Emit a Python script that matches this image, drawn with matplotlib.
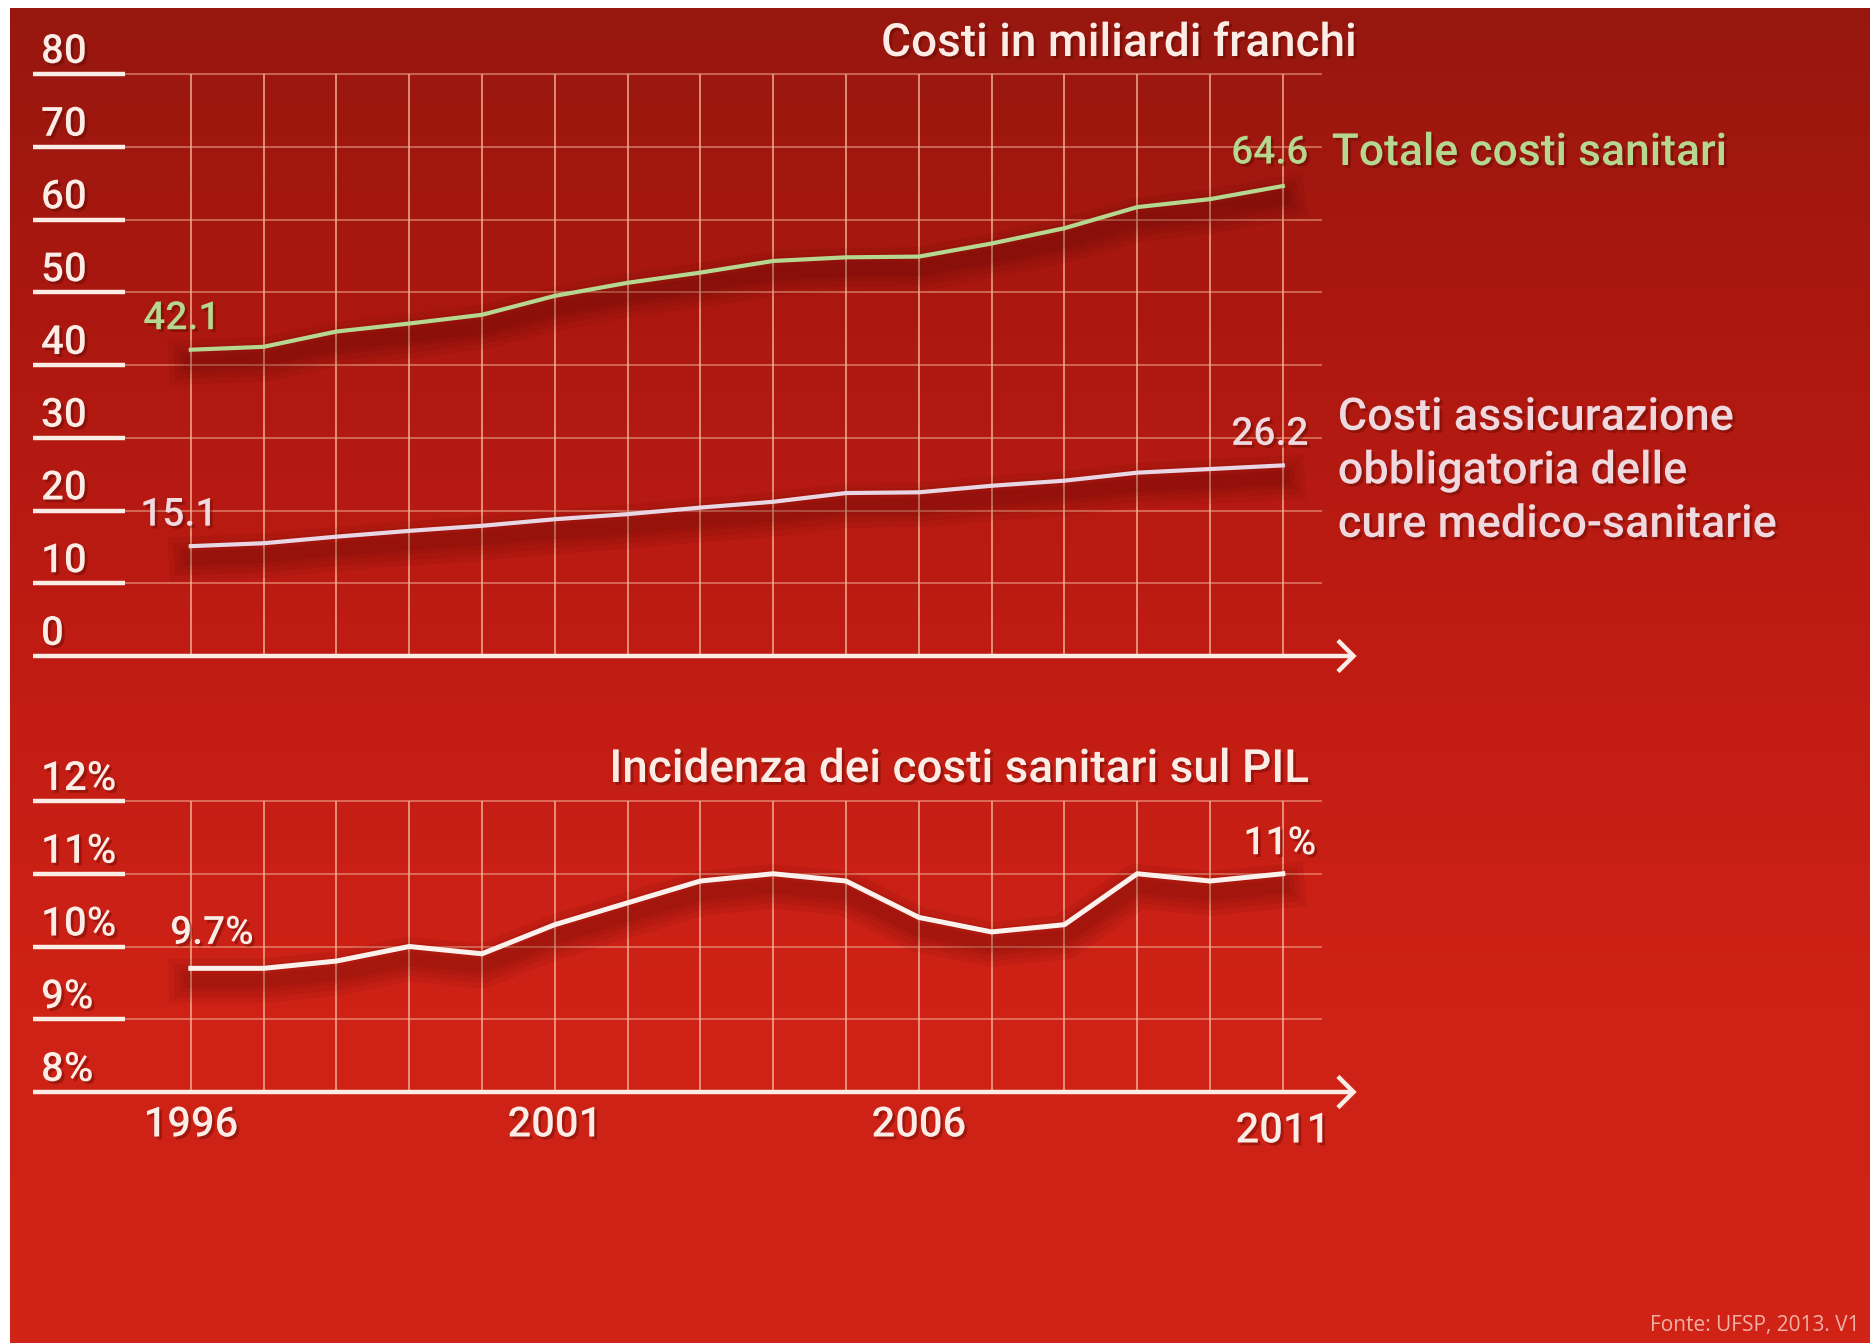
import numpy as np
import matplotlib
matplotlib.use("Agg")
import matplotlib.pyplot as plt
import matplotlib.patheffects as pe
from matplotlib import font_manager
from matplotlib.colors import LinearSegmentedColormap

# ---- data -------------------------------------------------------------
years = list(range(1996, 2012))
total_costs = [42.1, 42.5, 44.6, 45.7, 46.9, 49.5, 51.3, 52.7,
               54.3, 54.8, 54.9, 56.7, 58.8, 61.7, 62.8, 64.6]
insurance_costs = [15.1, 15.5, 16.4, 17.2, 17.9, 18.8, 19.5, 20.4,
                   21.2, 22.4, 22.5, 23.4, 24.1, 25.2, 25.7, 26.2]
gdp_share = [9.7, 9.7, 9.8, 10.0, 9.9, 10.3, 10.6, 10.9,
             11.0, 10.9, 10.4, 10.2, 10.3, 11.0, 10.9, 11.0]

cost_ticks = [0, 10, 20, 30, 40, 50, 60, 70, 80]
pct_ticks = [8, 9, 10, 11, 12]
year_labels = [1996, 2001, 2006, 2011]

title_costs = "Costi in miliardi franchi"
title_gdp = "Incidenza dei costi sanitari sul PIL"
label_total = "Totale costi sanitari"
label_insurance = "Costi assicurazione\nobbligatoria delle\ncure medico-sanitarie"
source_note = "Fonte: UFSP, 2013. V1"

# ---- fonts ------------------------------------------------------------
available = {f.name for f in font_manager.fontManager.ttflist}
FONT = "DejaVu Sans"
for cand in ["Roboto", "Roboto Condensed", "Lato", "DejaVu Sans"]:
    if cand in available:
        FONT = cand
        break
plt.rcParams["font.family"] = [FONT, "DejaVu Sans"]
plt.rcParams["font.weight"] = "medium"

# ---- colours ----------------------------------------------------------
GREEN = "#b5d78f"
LILAC = "#e9d6e4"
LILAC_TXT = "#f0d8df"
WHITE = "#fbf1ec"
GRID = "#f4b497"
TXT = "#fbece6"

# ---- layout (pixels) --------------------------------------------------
W, H = 1870, 1343
X0_PX, X1_PX = 33, 1355          # axis line start / arrow tip
YEAR0_PX, PX_PER_YEAR = 190.8, 72.8
GRID_X0_PX, GRID_X1_PX = 126, 1321
TOP_Y0_PX, TOP_Y1_PX = 656, 74    # 0 and 80
BOT_Y0_PX, BOT_Y1_PX = 1092, 801  # 8% and 12%


def px_to_year(px):
    return 1996 + (px - YEAR0_PX) / PX_PER_YEAR


xlim = (px_to_year(X0_PX), px_to_year(X1_PX))

fig = plt.figure(figsize=(W / 100, H / 100), dpi=100, facecolor="white")

# red gradient background with a thin white margin on top and left
bg = fig.add_axes([10 / W, 0, 1 - 10 / W, 1 - 8 / H])
bg.set_axis_off()
grad_cmap = LinearSegmentedColormap.from_list(
    "bg", ["#97170f", "#ad1810", "#c11c13", "#cf2216", "#d12417"])
grad = np.linspace(0, 1, 256).reshape(-1, 1)
bg.imshow(grad, cmap=grad_cmap, aspect="auto", extent=(0, 1, 1, 0))
bg.set_xlim(0, 1)
bg.set_ylim(1, 0)
bg.set_zorder(-10)


def make_axes(y_lo_px, y_hi_px, ylim):
    ax = fig.add_axes([X0_PX / W, 1 - y_lo_px / H,
                       (X1_PX - X0_PX) / W, (y_lo_px - y_hi_px) / H])
    ax.set_xlim(*xlim)
    ax.set_ylim(*ylim)
    ax.set_axis_off()
    ax.patch.set_alpha(0)
    return ax


ax1 = make_axes(TOP_Y0_PX, TOP_Y1_PX, (0, 80))
ax2 = make_axes(BOT_Y0_PX, BOT_Y1_PX, (8, 12))

line_shadow = [pe.SimpleLineShadow(offset=(0, -9), shadow_color="#3a0000",
                                   alpha=0.07, linewidth=w)
               for w in (32, 24, 16, 10)] + [pe.Normal()]
text_shadow = [pe.SimplePatchShadow(offset=(2, -2), shadow_rgbFace="#4a0500",
                                    alpha=0.35), pe.Normal()]

grid_x0, grid_x1 = px_to_year(GRID_X0_PX), px_to_year(GRID_X1_PX)
under_x1 = px_to_year(125)


def draw_frame(ax, ticks, fmt, px_per_unit):
    lo, hi = ticks[0], ticks[-1]
    # vertical year grid
    for yr in years:
        ax.plot([yr, yr], [lo, hi], color=GRID, lw=1.4, alpha=0.75,
                zorder=1, clip_on=False, solid_capstyle="butt")
    # horizontal grid and tick underlines
    for t in ticks[1:]:
        ax.plot([under_x1, grid_x1], [t, t], color=GRID, lw=1.4, alpha=0.5,
                zorder=1, clip_on=False)
        ax.plot([xlim[0], under_x1], [t, t], color=TXT, lw=3.2,
                zorder=2, clip_on=False, solid_capstyle="butt")
    for t in ticks:
        ax.text(px_to_year(41), t + 11 / px_per_unit, fmt(t), fontsize=29,
                color=TXT, ha="left", va="baseline", zorder=5,
                path_effects=text_shadow)
    # base axis with arrow
    tip = xlim[1] - 1.5 / PX_PER_YEAR
    ax.plot([xlim[0], tip], [lo, lo], color=TXT, lw=3.2, zorder=3,
            clip_on=False, solid_capstyle="butt")
    dx, dy = 14 / PX_PER_YEAR, 14 / px_per_unit
    ax.plot([tip - dx, tip, tip - dx], [lo + dy, lo, lo - dy], color=TXT,
            lw=3.2, zorder=3, clip_on=False, solid_joinstyle="miter")


top_ppu = (TOP_Y0_PX - TOP_Y1_PX) / 80
bot_ppu = (BOT_Y0_PX - BOT_Y1_PX) / 4
draw_frame(ax1, cost_ticks, lambda v: f"{v}", top_ppu)
draw_frame(ax2, pct_ticks, lambda v: f"{v}%", bot_ppu)

# ---- series -----------------------------------------------------------
ax1.plot(years, total_costs, color=GREEN, lw=3.0, zorder=4,
         path_effects=line_shadow, clip_on=False, solid_joinstyle="round")
ax1.plot(years, insurance_costs, color=LILAC, lw=3.0, zorder=4,
         path_effects=line_shadow, clip_on=False, solid_joinstyle="round")
ax2.plot(years, gdp_share, color=WHITE, lw=3.6, zorder=4,
         path_effects=line_shadow, clip_on=False, solid_joinstyle="round")


def note(ax, xy, txt, offset, color, ha="center", size=28, **kw):
    ax.annotate(txt, xy=xy, xytext=offset, textcoords="offset pixels",
                ha=ha, va="center", fontsize=size, color=color, zorder=6,
                annotation_clip=False, path_effects=text_shadow, **kw)


note(ax1, (years[0], total_costs[0]), f"{total_costs[0]:.1f}", (-9, 31), GREEN)
note(ax1, (years[-1], total_costs[-1]), f"{total_costs[-1]:.1f}", (-13, 33), GREEN)
note(ax1, (years[-1], total_costs[-1]), label_total, (49, 33), GREEN, ha="left",
     size=32)
note(ax1, (years[0], insurance_costs[0]), f"{insurance_costs[0]:.1f}", (-12, 31), LILAC_TXT)
note(ax1, (years[-1], insurance_costs[-1]), f"{insurance_costs[-1]:.1f}", (-13, 31), LILAC_TXT)
note(ax1, (years[-1], insurance_costs[-1]), label_insurance, (55, -6), LILAC_TXT,
     ha="left", size=32.4, linespacing=1.35, multialignment="left")
note(ax2, (years[0], gdp_share[0]), f"{gdp_share[0]:.1f}%", (21, 35), TXT)
note(ax2, (years[-1], gdp_share[-1]), f"{gdp_share[-1]:.0f}%", (-3, 30), TXT)

# titles
ax1.text(px_to_year(1356), 80 + (TOP_Y1_PX - 43) / top_ppu, title_costs,
         ha="right", va="center", fontsize=33, color=TXT, zorder=6,
         path_effects=text_shadow)
ax2.text(px_to_year(1308), 12 + (BOT_Y1_PX - 769) / bot_ppu, title_gdp,
         ha="right", va="center", fontsize=33, color=TXT, zorder=6,
         path_effects=text_shadow)

# year labels
for yr in year_labels:
    drop = 39 if yr == year_labels[-1] else 33
    ax2.text(yr, 8 - drop / bot_ppu, str(yr), ha="center", va="center",
             fontsize=30, color=TXT, zorder=6, path_effects=text_shadow)

fig.text(1650 / W, 1 - 1325 / H, source_note, ha="left", va="center",
         fontsize=15, color="#f1b0a4", family=["Open Sans", "DejaVu Sans"])

fig.savefig("out.png", dpi=100, facecolor=fig.get_facecolor())
